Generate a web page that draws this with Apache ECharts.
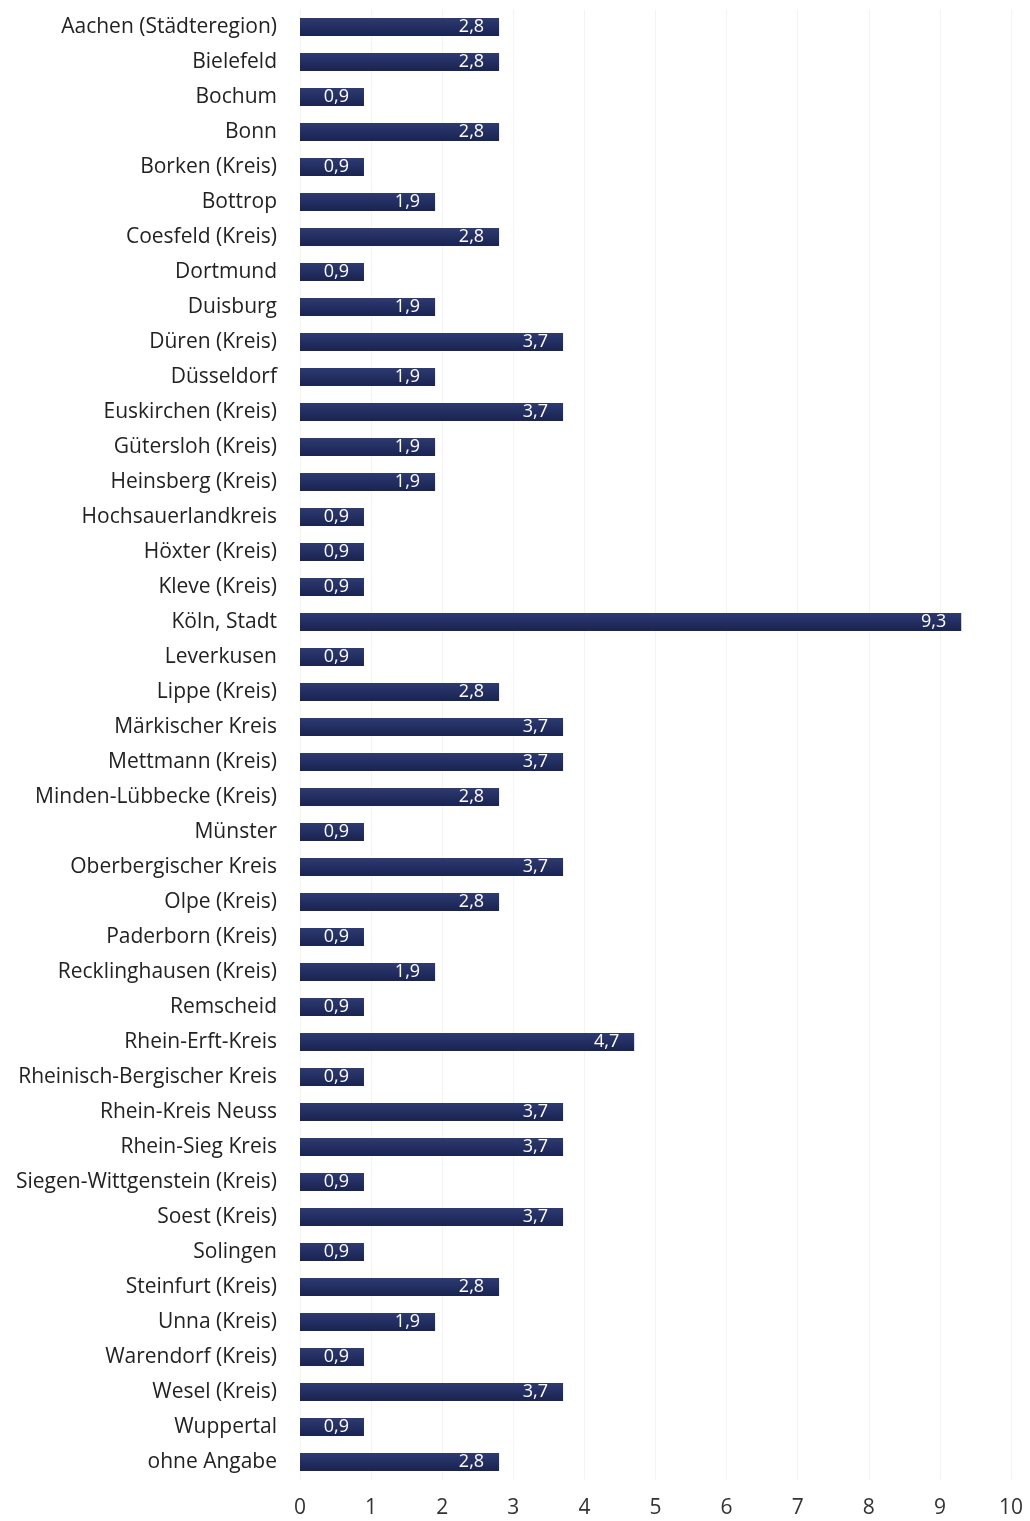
<!DOCTYPE html>
<html>
<head>
<meta charset="utf-8">
<script src="https://cdn.jsdelivr.net/npm/echarts@6/dist/echarts.min.js"></script>
<style>
  html, body { margin: 0; padding: 0; background: #ffffff; }
  #chart { width: 1030px; height: 1521px; }
</style>
</head>
<body>
<div id="chart"></div>
<script>
// Kreise und kreisfreie Städte in NRW, Anteil in Prozent
const categories = [
  'Aachen (Städteregion)', 'Bielefeld', 'Bochum', 'Bonn', 'Borken (Kreis)',
  'Bottrop', 'Coesfeld (Kreis)', 'Dortmund', 'Duisburg', 'Düren (Kreis)',
  'Düsseldorf', 'Euskirchen (Kreis)', 'Gütersloh (Kreis)', 'Heinsberg (Kreis)',
  'Hochsauerlandkreis', 'Höxter (Kreis)', 'Kleve (Kreis)', 'Köln, Stadt',
  'Leverkusen', 'Lippe (Kreis)', 'Märkischer Kreis', 'Mettmann (Kreis)',
  'Minden-Lübbecke (Kreis)', 'Münster', 'Oberbergischer Kreis', 'Olpe (Kreis)',
  'Paderborn (Kreis)', 'Recklinghausen (Kreis)', 'Remscheid', 'Rhein-Erft-Kreis',
  'Rheinisch-Bergischer Kreis', 'Rhein-Kreis Neuss', 'Rhein-Sieg Kreis',
  'Siegen-Wittgenstein (Kreis)', 'Soest (Kreis)', 'Solingen', 'Steinfurt (Kreis)',
  'Unna (Kreis)', 'Warendorf (Kreis)', 'Wesel (Kreis)', 'Wuppertal', 'ohne Angabe'
];

const values = [
  2.8, 2.8, 0.9, 2.8, 0.9,
  1.9, 2.8, 0.9, 1.9, 3.7,
  1.9, 3.7, 1.9, 1.9,
  0.9, 0.9, 0.9, 9.3,
  0.9, 2.8, 3.7, 3.7,
  2.8, 0.9, 3.7, 2.8,
  0.9, 1.9, 0.9, 4.7,
  0.9, 3.7, 3.7,
  0.9, 3.7, 0.9, 2.8,
  1.9, 0.9, 3.7, 0.9, 2.8
];

const axisTicks = [0, 1, 2, 3, 4, 5, 6, 7, 8, 9, 10];

const fontFamily = '"Open Sans", "Noto Sans", sans-serif';
const chart = echarts.init(document.getElementById('chart'), null, { renderer: 'canvas' });

chart.setOption({
  backgroundColor: '#ffffff',
  animation: false,
  grid: { left: 300, right: 19, top: 9.5, bottom: 41.5, containLabel: false },
  xAxis: {
    type: 'value',
    min: axisTicks[0],
    max: axisTicks[axisTicks.length - 1],
    interval: 1,
    axisLine: { show: false },
    axisTick: { show: false },
    splitLine: { show: true, lineStyle: { color: '#f4f4f4', width: 1 } },
    axisLabel: {
      color: '#333333',
      fontSize: 21,
      fontFamily: fontFamily,
      margin: 18
    }
  },
  yAxis: {
    type: 'category',
    data: categories,
    inverse: true,
    axisLine: { show: false },
    axisTick: { show: false },
    axisLabel: {
      color: '#222222',
      fontSize: 21,
      fontFamily: fontFamily,
      margin: 23
    }
  },
  series: [{
    type: 'bar',
    data: values,
    barWidth: 18,
    itemStyle: {
      color: new echarts.graphic.LinearGradient(0, 0, 0, 1, [
        { offset: 0, color: '#2e3b70' },
        { offset: 0.5, color: '#232e62' },
        { offset: 1, color: '#1a2450' }
      ])
    },
    label: {
      show: true,
      position: 'insideRight',
      distance: 15,
      color: '#ffffff',
      fontSize: 18,
      fontFamily: fontFamily,
      formatter: p => String(p.value).replace('.', ',')
    }
  }]
});
</script>
</body>
</html>
